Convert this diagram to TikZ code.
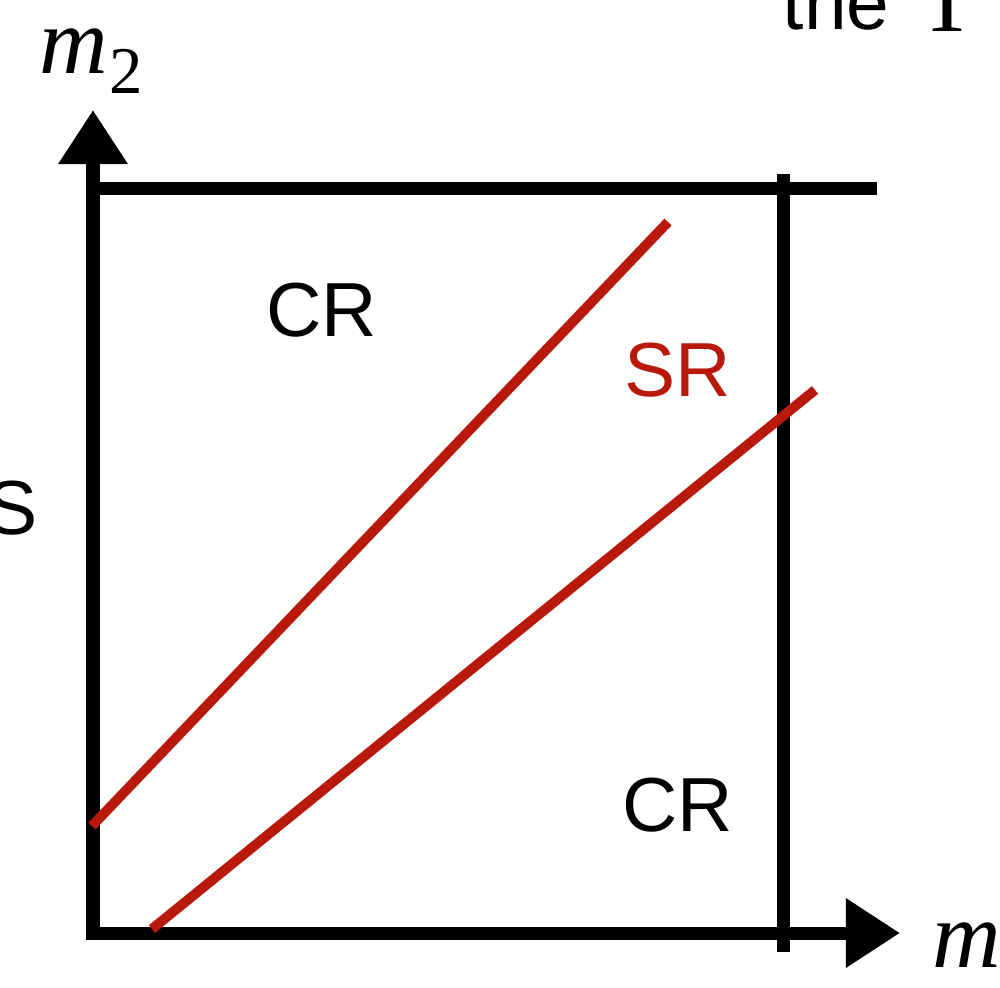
\documentclass[tikz,border=0pt]{standalone}
\usepackage{fontspec}
\setmainfont{Liberation Sans}
\newfontfamily\tms{Liberation Serif}
\usetikzlibrary{arrows.meta}
\definecolor{srred}{RGB}{185,25,10}
\tikzset{
  axisline/.style={line width=3.7pt, black},
  cutline/.style={line width=2.8pt, srred},
  lbl/.style={inner sep=0pt, font=\fontsize{21.8}{25}\selectfont},
  axtip/.style={-{Triangle[length=0.54cm,width=0.66cm]}},
}
\begin{document}
\begin{tikzpicture}[x=0.01cm,y=-0.01cm]
\clip (0,0) rectangle (1000,987);
\fill[white] (0,0) rectangle (1000,987);
% coordinates
\coordinate (ybot) at (93,940);
\coordinate (ytip) at (93,110);
\coordinate (xleft) at (87,933);
\coordinate (xtip) at (900,933);
\coordinate (tl) at (90,188);
\coordinate (tr) at (877,188);
\coordinate (rt) at (783,174);
\coordinate (rb) at (783,952);
\coordinate (a1) at (92,826);
\coordinate (a2) at (668,222);
\coordinate (b1) at (152,929);
\coordinate (b2) at (815,390);
% axes and box
\draw[axisline, axtip] (ybot) -- (ytip);
\draw[axisline, axtip] (xleft) -- (xtip);
\draw[axisline] (tl) -- (tr);
\draw[axisline] (rt) -- (rb);
% red cuts
\draw[cutline] (a1) -- (a2);
\draw[cutline] (b1) -- (b2);
% labels
\node[lbl] (cr1) at (322,310) {CR};
\node[lbl, text=srred] (sr) at (678,370) {SR};
\node[lbl] (cr2) at (678,805) {CR};
\node[lbl, anchor=east] (s) at (38,508) {S};
\node[lbl, anchor=base west] (the) at (782,29) {the};
\node[inner sep=0pt, anchor=base, font=\tms\fontsize{27}{30}\selectfont] (gam) at (947,31) {T};
\node[inner sep=0pt, anchor=base west, font=\tms\itshape\fontsize{27}{30}\selectfont] (m2) at (39,73) {m};
\node[inner sep=0pt, anchor=base west, font=\tms\fontsize{19}{22}\selectfont] (two) at (109,93) {2};
\node[inner sep=0pt, anchor=base west, font=\tms\itshape\fontsize{27}{30}\selectfont] (m1) at (932,967) {m};
\end{tikzpicture}
\end{document}
